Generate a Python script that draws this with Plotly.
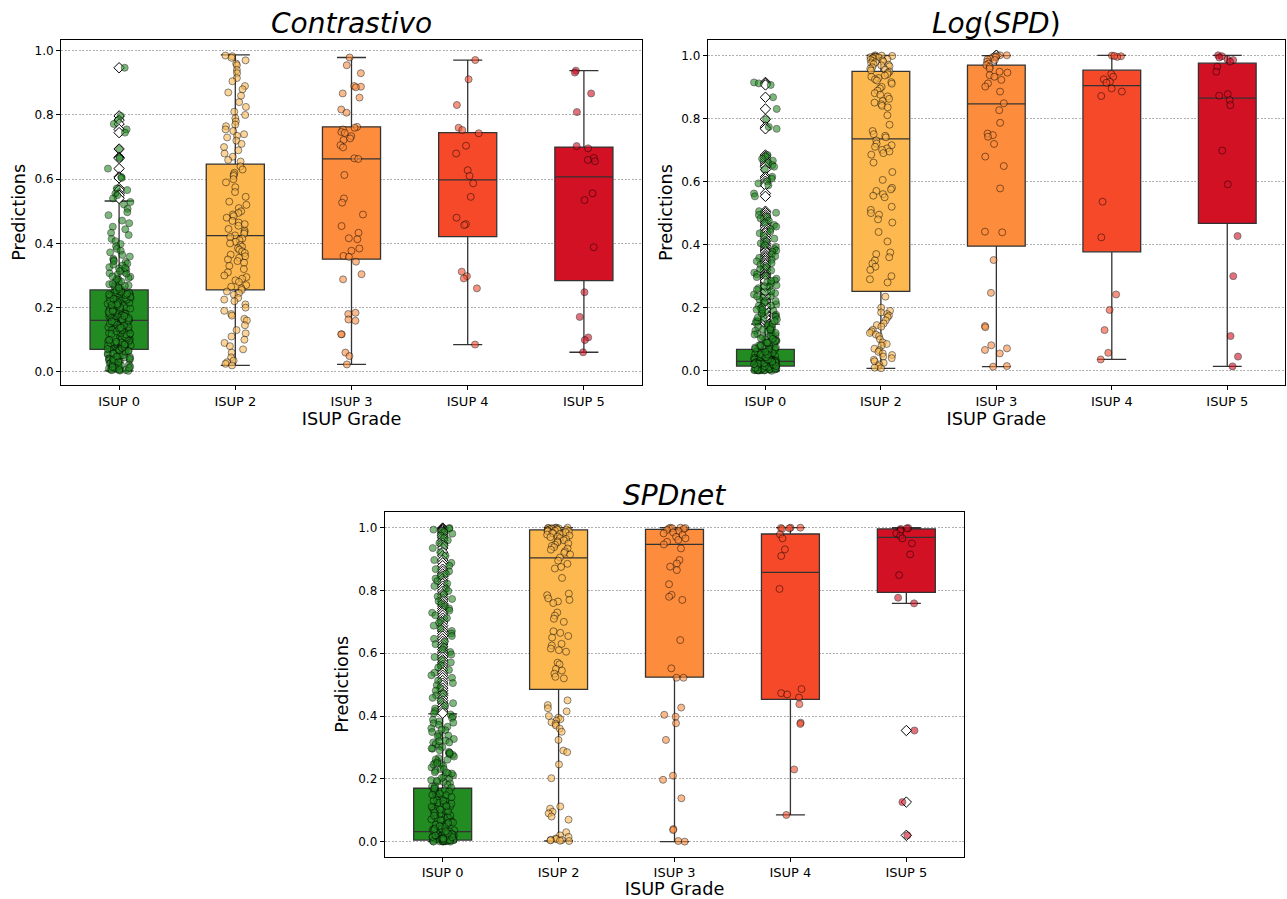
import math
import plotly.graph_objects as go

categories = ["ISUP 0", "ISUP 2", "ISUP 3", "ISUP 4", "ISUP 5"]
box_colors = ["#228b22", "#fdb950", "#fd8c3c", "#f5492a", "#d31124"]
ytick_vals = [0.0, 0.2, 0.4, 0.6, 0.8, 1.0]

# ---------------- Contrastivo ----------------
contr_q1 = [0.070, 0.255, 0.351, 0.421, 0.284]
contr_median = [0.160, 0.424, 0.663, 0.598, 0.607]
contr_q3 = [0.255, 0.647, 0.763, 0.745, 0.700]
contr_low = [0.003, 0.020, 0.023, 0.085, 0.061]
contr_high = [0.532, 0.987, 0.979, 0.971, 0.938]

contr_isup0 = [0.947, 0.797, 0.784, 0.772, 0.755, 0.745, 0.694, 0.668, 0.665, 0.633, 0.607, 0.604,
               0.571, 0.566, 0.555, 0.550, 0.540, 0.529, 0.521, 0.508, 0.497, 0.488, 0.471, 0.463,
               0.452, 0.444, 0.433, 0.426, 0.414, 0.407, 0.398, 0.391, 0.383, 0.377, 0.372, 0.364,
               0.359, 0.352, 0.348, 0.342, 0.337, 0.331, 0.326, 0.322, 0.318, 0.311, 0.307, 0.303,
               0.296, 0.292, 0.287, 0.284, 0.279, 0.273, 0.269, 0.266, 0.261, 0.257,
               0.254, 0.251, 0.247, 0.244, 0.242, 0.238, 0.235, 0.233, 0.229, 0.226, 0.224, 0.221,
               0.218, 0.214, 0.212, 0.208, 0.205, 0.203, 0.199, 0.197, 0.194, 0.191, 0.188, 0.186,
               0.183, 0.181, 0.178, 0.176, 0.173, 0.171, 0.168, 0.166, 0.164, 0.162, 0.161,
               0.158, 0.155, 0.153, 0.149, 0.147, 0.144, 0.141, 0.139, 0.136, 0.133, 0.131, 0.128,
               0.125, 0.122, 0.12, 0.117, 0.114, 0.112, 0.109, 0.106, 0.104, 0.101, 0.098, 0.096,
               0.093, 0.091, 0.088, 0.086, 0.083, 0.081, 0.079, 0.077, 0.075, 0.073, 0.072, 0.071,
               0.069, 0.066, 0.064, 0.061, 0.058, 0.056, 0.054, 0.051, 0.049, 0.047, 0.044, 0.042,
               0.04, 0.038, 0.036, 0.034, 0.032, 0.03, 0.028, 0.026, 0.024, 0.022, 0.021, 0.019,
               0.017, 0.016, 0.014, 0.013, 0.011, 0.01, 0.009, 0.008, 0.007, 0.006, 0.005, 0.004,
               0.003, 0.012, 0.027, 0.046, 0.062, 0.09, 0.118, 0.146, 0.172, 0.196, 0.223, 0.246,
               0.012, 0.018, 0.025, 0.033, 0.039, 0.045, 0.052, 0.057, 0.063, 0.067, 0.074, 0.078,
               0.082, 0.087, 0.092, 0.097, 0.103, 0.107, 0.111, 0.116, 0.121, 0.126, 0.13, 0.135,
               0.14, 0.145, 0.15, 0.154, 0.159, 0.163, 0.167, 0.172, 0.177, 0.182, 0.187, 0.192,
               0.196, 0.201, 0.206, 0.211, 0.215, 0.22, 0.225, 0.23, 0.234, 0.239, 0.243, 0.249,
               0.253, 0.258, 0.263, 0.268, 0.274, 0.281, 0.289, 0.297, 0.306, 0.314, 0.323, 0.334,
               0.345, 0.02, 0.041, 0.065, 0.085, 0.099, 0.119, 0.137, 0.157, 0.174, 0.189, 0.208,
               0.228, 0.241, 0.006, 0.015, 0.031, 0.048, 0.071, 0.094]
contr_isup2 = [0.985, 0.983, 0.978, 0.97, 0.96, 0.955, 0.94, 0.93, 0.915, 0.905, 0.89, 0.88, 0.87,
               0.86, 0.84, 0.825, 0.81, 0.80, 0.79, 0.78, 0.77, 0.765, 0.755, 0.75, 0.74, 0.735,
               0.73, 0.72, 0.71, 0.70, 0.69, 0.68, 0.67, 0.66, 0.655, 0.64, 0.63, 0.62, 0.615,
               0.61, 0.60, 0.59, 0.575, 0.56, 0.545, 0.53, 0.52, 0.51, 0.50, 0.495, 0.49, 0.485,
               0.48, 0.47, 0.465, 0.46, 0.455, 0.445, 0.44, 0.435, 0.43, 0.425, 0.42, 0.415, 0.41,
               0.405, 0.40, 0.395, 0.39, 0.385, 0.38, 0.375, 0.37, 0.365, 0.36, 0.355, 0.35, 0.345,
               0.34, 0.33, 0.32, 0.31, 0.30, 0.295, 0.29, 0.285, 0.28, 0.27, 0.265, 0.26, 0.255,
               0.25, 0.245, 0.24, 0.23, 0.225, 0.22, 0.21, 0.20, 0.19, 0.18, 0.175, 0.165, 0.16,
               0.145, 0.13, 0.12, 0.11, 0.10, 0.09, 0.08, 0.07, 0.06, 0.045, 0.035, 0.03, 0.025, 0.02]
contr_isup3 = [0.979, 0.955, 0.930, 0.890, 0.888, 0.886, 0.867, 0.854, 0.817, 0.807, 0.763, 0.760,
               0.755, 0.747, 0.744, 0.734, 0.727, 0.722, 0.706, 0.699, 0.665, 0.663, 0.613, 0.540,
               0.527, 0.490, 0.454, 0.433, 0.416, 0.413, 0.384, 0.377, 0.361, 0.358, 0.343, 0.304,
               0.288, 0.184, 0.180, 0.163, 0.159, 0.117, 0.117, 0.060, 0.049, 0.023]
contr_isup4 = [0.971, 0.911, 0.831, 0.760, 0.753, 0.743, 0.704, 0.680, 0.628, 0.610, 0.587, 0.545,
               0.480, 0.460, 0.457, 0.312, 0.298, 0.291, 0.260, 0.085]
contr_isup5 = [0.938, 0.932, 0.867, 0.809, 0.703, 0.696, 0.666, 0.660, 0.656, 0.556, 0.535, 0.388,
               0.248, 0.171, 0.107, 0.099, 0.061]

# ---------------- Log(SPD) ----------------
log_q1 = [0.015, 0.252, 0.395, 0.377, 0.467]
log_median = [0.030, 0.735, 0.846, 0.904, 0.864]
log_q3 = [0.068, 0.949, 0.969, 0.953, 0.975]
log_low = [0.0, 0.008, 0.013, 0.036, 0.014]
log_high = [0.148, 1.0, 0.999, 1.0, 1.0]

log_isup0 = [0.914, 0.911, 0.906, 0.867, 0.830, 0.797, 0.773, 0.767, 0.684, 0.679, 0.672, 0.666,
             0.659, 0.652, 0.647, 0.638, 0.615, 0.609, 0.601, 0.594, 0.588, 0.562, 0.553,
             0.506, 0.501, 0.494, 0.488, 0.483, 0.476, 0.469, 0.462, 0.457, 0.449, 0.441, 0.436,
             0.428, 0.419, 0.411, 0.404, 0.398, 0.393, 0.386, 0.381, 0.377, 0.369, 0.363, 0.358,
             0.352, 0.347, 0.341, 0.336, 0.329, 0.322, 0.318, 0.311, 0.306, 0.301, 0.297, 0.292,
             0.286, 0.281, 0.277, 0.271, 0.266, 0.262, 0.257, 0.251, 0.246, 0.242, 0.237, 0.231,
             0.226, 0.222, 0.217, 0.211, 0.206, 0.202, 0.198, 0.194, 0.19, 0.186, 0.182, 0.178,
             0.174, 0.171, 0.167, 0.163, 0.159, 0.156, 0.152, 0.149,
             0.146, 0.142, 0.139, 0.135, 0.131, 0.127, 0.124, 0.12, 0.117, 0.113, 0.11, 0.107,
             0.104, 0.1, 0.097, 0.094, 0.091, 0.088, 0.085, 0.082, 0.079, 0.077, 0.074, 0.071, 0.069,
             0.067, 0.065, 0.063, 0.061, 0.06, 0.058, 0.056, 0.055, 0.053, 0.052, 0.05, 0.049,
             0.047, 0.046, 0.045, 0.043, 0.042, 0.041, 0.04, 0.039, 0.038, 0.037, 0.036, 0.035,
             0.034, 0.033, 0.033, 0.032, 0.031, 0.03, 0.029, 0.029, 0.028, 0.027, 0.026, 0.026,
             0.025, 0.024, 0.023, 0.023, 0.022, 0.021, 0.021, 0.02, 0.019, 0.019, 0.018, 0.017,
             0.017, 0.016, 0.016, 0.015, 0.014, 0.013, 0.013, 0.012, 0.011, 0.011, 0.01, 0.009,
             0.009, 0.008, 0.008, 0.007, 0.006, 0.006, 0.005, 0.005, 0.004, 0.003, 0.003, 0.002,
             0.002, 0.001, 0.001, 0.0,
             0.001, 0.002, 0.004, 0.005, 0.007, 0.008, 0.01, 0.012, 0.014, 0.016, 0.018, 0.02,
             0.022, 0.024, 0.027, 0.03, 0.033, 0.036, 0.04, 0.044, 0.048, 0.052, 0.057, 0.062,
             0.068, 0.074, 0.081, 0.088, 0.095, 0.103, 0.111, 0.12, 0.129, 0.138, 0.148, 0.158,
             0.169, 0.181, 0.193, 0.207, 0.221, 0.236, 0.252, 0.268, 0.285, 0.003, 0.009, 0.015,
             0.021, 0.028, 0.035, 0.043, 0.051, 0.06, 0.07, 0.079, 0.09, 0.101, 0.115, 0.132]
log_isup2 = [1.0, 0.999, 0.998, 0.997, 0.996, 0.995, 0.994, 0.993, 0.992, 0.99, 0.988, 0.986,
             0.984, 0.982, 0.98, 0.978, 0.975, 0.972, 0.97, 0.968, 0.965, 0.962, 0.958, 0.955,
             0.952, 0.948, 0.945, 0.94, 0.936, 0.932, 0.928, 0.924, 0.92, 0.915, 0.91, 0.9,
             0.895, 0.888, 0.88, 0.875, 0.87, 0.862, 0.855, 0.85, 0.845, 0.84, 0.835, 0.81, 0.78,
             0.76, 0.75, 0.745, 0.74, 0.73, 0.72, 0.715, 0.71, 0.705, 0.70, 0.695, 0.69, 0.685,
             0.66, 0.63, 0.605, 0.58, 0.575, 0.57, 0.56, 0.555, 0.55, 0.52, 0.51, 0.50, 0.495,
             0.48, 0.47, 0.44, 0.41, 0.375, 0.37, 0.36, 0.35, 0.34, 0.33, 0.32, 0.30, 0.29, 0.28,
             0.235, 0.2, 0.19, 0.185, 0.18, 0.175, 0.17, 0.16, 0.15, 0.145, 0.14, 0.13, 0.125,
             0.12, 0.115, 0.11, 0.10, 0.09, 0.085, 0.08, 0.07, 0.065, 0.06, 0.055, 0.05, 0.045,
             0.04, 0.035, 0.03, 0.025, 0.02, 0.015, 0.01, 0.008]
log_isup3 = [1.0, 1.0, 0.997, 0.996, 0.994, 0.99, 0.987, 0.985, 0.980, 0.974, 0.969, 0.964, 0.958,
             0.948, 0.945, 0.937, 0.932, 0.922, 0.911, 0.901, 0.885, 0.848, 0.826, 0.786, 0.752,
             0.747, 0.742, 0.719, 0.679, 0.649, 0.578, 0.441, 0.439, 0.351, 0.247, 0.142, 0.138,
             0.081, 0.071, 0.066, 0.055, 0.015, 0.013]
log_isup4 = [0.999, 0.997, 0.995, 0.998, 0.941, 0.932, 0.924, 0.916, 0.913, 0.895, 0.885, 0.871,
             0.536, 0.423, 0.242, 0.193, 0.129, 0.057, 0.036]
log_isup5 = [1.0, 0.997, 0.993, 0.987, 0.985, 0.980, 0.964, 0.948, 0.877, 0.872, 0.858, 0.842,
             0.698, 0.591, 0.427, 0.300, 0.110, 0.045, 0.014]

# ---------------- SPDnet ----------------
spd_q1 = [0.005, 0.485, 0.524, 0.453, 0.794]
spd_median = [0.032, 0.904, 0.947, 0.858, 0.969]
spd_q3 = [0.170, 0.993, 0.995, 0.980, 0.996]
spd_low = [0.0, 0.002, 0.0, 0.085, 0.759]
spd_high = [0.407, 1.0, 1.0, 1.0, 1.0]

spd_isup0 = [0.999, 0.997, 0.994, 0.99, 0.986, 0.981, 0.975, 0.968, 0.96, 0.951, 0.944, 0.935,
             0.922, 0.911, 0.897, 0.888, 0.879, 0.868, 0.861, 0.853, 0.846, 0.838, 0.83, 0.822,
             0.814, 0.806, 0.798, 0.789, 0.781, 0.773, 0.766, 0.758, 0.75, 0.743, 0.736, 0.729,
             0.721, 0.712, 0.704, 0.697, 0.688, 0.679, 0.671, 0.663, 0.655, 0.646, 0.638, 0.629,
             0.621, 0.612, 0.604, 0.596, 0.588, 0.579, 0.571, 0.562, 0.555, 0.547, 0.538, 0.53,
             0.522, 0.513, 0.505, 0.498, 0.489, 0.481, 0.472, 0.466, 0.458, 0.449, 0.441, 0.433,
             0.424, 0.416, 0.409, 0.405, 0.399, 0.394, 0.388, 0.383, 0.377, 0.372, 0.366, 0.361,
             0.355, 0.349, 0.344, 0.338, 0.333, 0.327, 0.322, 0.316, 0.311, 0.305, 0.301,
             0.296, 0.291, 0.286, 0.281, 0.276, 0.271, 0.266, 0.261, 0.256, 0.251, 0.246, 0.241,
             0.236, 0.231, 0.226, 0.221, 0.216, 0.211, 0.206, 0.201, 0.196, 0.191, 0.186, 0.181,
             0.176, 0.172, 0.168, 0.164, 0.16, 0.156, 0.152, 0.148, 0.144, 0.14, 0.136, 0.132,
             0.128, 0.124, 0.12, 0.116, 0.112, 0.108, 0.104, 0.1, 0.096, 0.092, 0.088, 0.084,
             0.08, 0.076, 0.072, 0.068, 0.064, 0.06, 0.056, 0.052, 0.048, 0.045, 0.042, 0.039,
             0.036, 0.034, 0.032, 0.03, 0.028, 0.026, 0.024, 0.022, 0.02, 0.019, 0.018, 0.017,
             0.016, 0.015, 0.014, 0.013, 0.012, 0.011, 0.01, 0.009, 0.009, 0.008, 0.008, 0.007,
             0.007, 0.006, 0.006, 0.005, 0.005, 0.004, 0.004, 0.003, 0.003, 0.002, 0.002, 0.001,
             0.001, 0.0, 0.0, 0.0,
             0.001, 0.003, 0.005, 0.008, 0.011, 0.015, 0.019, 0.024, 0.029, 0.035, 0.041, 0.047,
             0.054, 0.061, 0.068, 0.076, 0.084, 0.093, 0.102, 0.111, 0.121, 0.131, 0.142, 0.153,
             0.165, 0.177, 0.19, 0.203, 0.217, 0.231, 0.246, 0.262, 0.279, 0.297, 0.316, 0.336,
             0.357, 0.379, 0.002, 0.006, 0.01, 0.014, 0.02, 0.026, 0.033, 0.04, 0.05, 0.06, 0.071,
             0.083, 0.097, 0.113, 0.13, 0.149, 0.17, 0.194, 0.22, 0.25, 0.283, 0.32]
spd_isup2 = [1.0, 1.0, 1.0, 0.999, 0.999, 0.998, 0.998, 0.997, 0.996, 0.995, 0.994, 0.993, 0.992,
             0.991, 0.99, 0.989, 0.988, 0.986, 0.984, 0.982, 0.98, 0.978, 0.975, 0.972, 0.97,
             0.967, 0.964, 0.96, 0.957, 0.953, 0.95, 0.946, 0.942, 0.938, 0.934, 0.93, 0.925,
             0.92, 0.915, 0.905, 0.895, 0.885, 0.875, 0.87, 0.84, 0.79, 0.785, 0.775, 0.77, 0.765,
             0.76, 0.73, 0.72, 0.71, 0.70, 0.67, 0.665, 0.655, 0.65, 0.63, 0.625, 0.615, 0.61,
             0.605, 0.57, 0.565, 0.55, 0.545, 0.535, 0.525, 0.52, 0.45, 0.435, 0.425, 0.415,
             0.40, 0.395, 0.39, 0.385, 0.38, 0.375, 0.37, 0.36, 0.35, 0.324, 0.29, 0.285, 0.246,
             0.202, 0.112, 0.105, 0.095, 0.09, 0.08, 0.07, 0.03, 0.02, 0.015, 0.01, 0.008, 0.006,
             0.005, 0.004, 0.003, 0.002]
spd_isup3 = [1.0, 1.0, 0.999, 0.998, 0.998, 0.996, 0.993, 0.989, 0.985, 0.982, 0.977, 0.971,
             0.966, 0.961, 0.955, 0.947, 0.934, 0.897, 0.886, 0.876, 0.865, 0.820, 0.786, 0.780,
             0.770, 0.642, 0.552, 0.522, 0.522, 0.427, 0.404, 0.398, 0.377, 0.324, 0.210, 0.197,
             0.138, 0.040, 0.037, 0.002, 0.0]
spd_isup4 = [1.0, 1.0, 0.999, 0.998, 0.996, 0.979, 0.966, 0.931, 0.910, 0.805, 0.486, 0.473,
             0.469, 0.459, 0.438, 0.379, 0.375, 0.230, 0.085]
spd_isup5 = [0.999, 0.998, 0.996, 0.993, 0.989, 0.982, 0.974, 0.966, 0.950, 0.915, 0.849, 0.777,
             0.759, 0.354, 0.126, 0.020]

panels = [
    dict(title="<i>Contrastivo</i>", xa="x", ya="y",
         q1=contr_q1, med=contr_median, q3=contr_q3, lo=contr_low, hi=contr_high,
         pts=[contr_isup0, contr_isup2, contr_isup3, contr_isup4, contr_isup5],
         xdom=[61 / 1287, 642 / 1287], ydom=[1 - 385 / 899, 1 - 39.5 / 899], yr=[-0.041, 1.035],
         tx=351.5, ty=24),
    dict(title="<i>Log</i>(<i>SPD</i>)", xa="x2", ya="y2",
         q1=log_q1, med=log_median, q3=log_q3, lo=log_low, hi=log_high,
         pts=[log_isup0, log_isup2, log_isup3, log_isup4, log_isup5],
         xdom=[707.7 / 1287, 1285 / 1287], ydom=[1 - 385 / 899, 1 - 40 / 899], yr=[-0.045, 1.0485],
         tx=996.4, ty=24),
    dict(title="<i>SPDnet</i>", xa="x3", ya="y3",
         q1=spd_q1, med=spd_median, q3=spd_q3, lo=spd_low, hi=spd_high,
         pts=[spd_isup0, spd_isup2, spd_isup3, spd_isup4, spd_isup5],
         xdom=[384.7 / 1287, 964.3 / 1287], ydom=[1 - 856.7 / 899, 1 - 511.7 / 899], yr=[-0.048, 1.051],
         tx=674.5, ty=495),
]


def strip_jitter(n, seed, half_width=0.1):
    """Deterministic, uniform-looking horizontal jitter (display only, like a strip plot)."""
    out = []
    for k in range(n):
        h = math.sin((k + 1) * 12.9898 + seed * 78.233) * 43758.5453
        out.append(((h % 1.0) - 0.5) * 2 * half_width)
    return out


fig = go.Figure()

for pi, p in enumerate(panels):
    # boxes from the summary statistics
    for i, cat in enumerate(categories):
        fig.add_trace(go.Box(
            x=[i], q1=[p["q1"][i]], median=[p["med"][i]], q3=[p["q3"][i]],
            lowerfence=[p["lo"][i]], upperfence=[p["hi"][i]],
            xaxis=p["xa"], yaxis=p["ya"], width=0.5, whiskerwidth=0.5,
            fillcolor=box_colors[i], line=dict(color="#333333", width=1.3),
            boxpoints=False, hoverinfo="skip", showlegend=False, name=cat))
    # fliers (points outside the whiskers) as white diamonds on the box centre
    for i, cat in enumerate(categories):
        fl = [v for v in p["pts"][i] if v > p["hi"][i] or v < p["lo"][i]]
        if fl:
            fig.add_trace(go.Scatter(
                x=[i] * len(fl), y=fl, mode="markers", xaxis=p["xa"], yaxis=p["ya"],
                marker=dict(symbol="diamond", size=8, color="white",
                            line=dict(color="black", width=1)),
                hoverinfo="skip", showlegend=False, cliponaxis=False))
    # jittered strip points
    for i, cat in enumerate(categories):
        vals = p["pts"][i]
        offs = strip_jitter(len(vals), seed=pi * 10 + i + 1)
        fig.add_trace(go.Scatter(
            x=[i + o for o in offs], y=vals, mode="markers", xaxis=p["xa"], yaxis=p["ya"],
            marker=dict(size=7, color=box_colors[i], opacity=0.6,
                        line=dict(color="black", width=0.8)),
            hoverinfo="skip", showlegend=False, cliponaxis=False))

layout = dict(
    width=1287, height=899, margin=dict(l=0, r=0, t=0, b=0, autoexpand=False),
    plot_bgcolor="white", paper_bgcolor="white", boxmode="overlay", showlegend=False,
    font=dict(family="DejaVu Sans", color="black", size=12),
)
annotations = []
for k, p in enumerate(panels):
    sfx = "" if k == 0 else str(k + 1)
    layout["xaxis" + sfx] = dict(
        domain=p["xdom"], anchor=p["ya"], range=[-0.5, 4.5],
        tickvals=[0, 1, 2, 3, 4], ticktext=categories, showgrid=False, zeroline=False,
        showline=True, mirror=True, linecolor="black", linewidth=1, automargin=False,
        ticks="outside", ticklen=4, tickcolor="black", tickfont=dict(size=13),
        title=dict(text="ISUP Grade", font=dict(size=17.7), standoff=2))
    layout["yaxis" + sfx] = dict(
        domain=p["ydom"], anchor=p["xa"], range=p["yr"], tickvals=ytick_vals,
        tickformat=".1f", showgrid=True, gridcolor="#b0b0b0", griddash="2px,1.5px",
        gridwidth=0.8, zeroline=False, showline=True, mirror=True, linecolor="black",
        linewidth=1, automargin=False,
        ticks="outside", ticklen=4, tickcolor="black", tickfont=dict(size=12),
        title=dict(text="Predictions", font=dict(size=17.7), standoff=4))
    annotations.append(dict(
        text=p["title"], x=p["tx"] / 1287, y=1 - p["ty"] / 899, xref="paper", yref="paper",
        xanchor="center", yanchor="middle", showarrow=False, font=dict(size=28)))
layout["annotations"] = annotations
fig.update_layout(**layout)

fig.write_html("out.html", config={"displayModeBar": False},
               post_script="document.body.style.margin='0px';document.body.style.overflow='hidden';")
